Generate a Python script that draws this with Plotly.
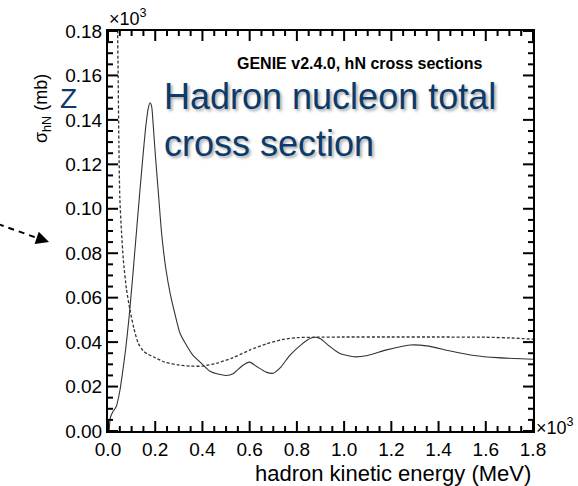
import plotly.graph_objects as go

# Solid curve (hN total cross section), x in units of 10^3 MeV, y in mb (x10^3)
solid_x = [0.005, 0.01, 0.02, 0.035, 0.05, 0.06, 0.075, 0.09, 0.105, 0.12, 0.135, 0.15, 0.16, 0.17,
           0.178, 0.185, 0.19, 0.20, 0.215, 0.227, 0.245, 0.263, 0.285, 0.305, 0.33, 0.36, 0.39,
           0.43, 0.47, 0.50, 0.53, 0.57, 0.60, 0.63, 0.67, 0.70, 0.73, 0.77, 0.82, 0.86, 0.88,
           0.90, 0.94, 0.98, 1.04, 1.10, 1.18, 1.28, 1.35, 1.45, 1.55, 1.65, 1.75, 1.80]
solid_y = [0.0, 0.006, 0.0085, 0.011, 0.018, 0.025, 0.037, 0.052, 0.070, 0.089, 0.108, 0.126, 0.137, 0.145,
           0.1477, 0.146, 0.140, 0.125, 0.105, 0.089, 0.073, 0.062, 0.052, 0.044, 0.039, 0.034, 0.031,
           0.027, 0.0255, 0.025, 0.0258, 0.0295, 0.031, 0.029, 0.0265, 0.026, 0.0285, 0.034, 0.039, 0.0418, 0.0422,
           0.0415, 0.038, 0.035, 0.0334, 0.034, 0.0365, 0.0387, 0.0383, 0.036, 0.034, 0.033, 0.0325, 0.0323]

# Dashed curve
dash_x = [0.030, 0.040, 0.043, 0.046, 0.050, 0.057, 0.065, 0.078, 0.093, 0.11, 0.128, 0.15, 0.17, 0.192,
          0.24, 0.30, 0.35, 0.40, 0.46, 0.53, 0.60, 0.67, 0.74, 0.80, 0.88, 1.0, 1.2, 1.4, 1.6, 1.72, 1.80]
dash_y = [0.25, 0.185, 0.16, 0.13, 0.105, 0.09, 0.077, 0.064, 0.0545, 0.046, 0.0395, 0.036, 0.0345, 0.0334,
          0.031, 0.0297, 0.0292, 0.0292, 0.0305, 0.033, 0.0364, 0.0392, 0.0412, 0.042, 0.0422, 0.0423, 0.0423,
          0.0423, 0.0422, 0.0418, 0.0413]

x_ticks = [0.0, 0.2, 0.4, 0.6, 0.8, 1.0, 1.2, 1.4, 1.6, 1.8]
y_ticks = [0.00, 0.02, 0.04, 0.06, 0.08, 0.10, 0.12, 0.14, 0.16, 0.18]

FONT = "Liberation Sans, Arial, Helvetica, sans-serif"
BLUE = "#0b3a6b"
TICKC = "black"

fig = go.Figure()
fig.add_trace(go.Scatter(x=dash_x, y=dash_y, mode="lines",
                         line=dict(color="#333333", width=1.3, dash="3px,2px", shape="spline", smoothing=0.6),
                         hoverinfo="skip", showlegend=False))
fig.add_trace(go.Scatter(x=solid_x, y=solid_y, mode="lines",
                         line=dict(color="#333333", width=1.1, shape="spline", smoothing=0.6),
                         hoverinfo="skip", showlegend=False))

fig.update_xaxes(range=[x_ticks[0], x_ticks[-1]], tickmode="array", tickvals=x_ticks,
                 ticktext=[f"{v:.1f}" for v in x_ticks],
                 showline=True, linecolor="black", linewidth=2, mirror=True, ticks="",
                 showgrid=False, zeroline=False,
                 tickfont=dict(family=FONT, size=19, color="black"))
fig.update_yaxes(range=[y_ticks[0], y_ticks[-1]], tickmode="array", tickvals=y_ticks,
                 ticktext=[f"{v:.2f}" for v in y_ticks],
                 showline=True, linecolor="black", linewidth=2, mirror=True, ticks="",
                 showgrid=False, zeroline=False,
                 tickfont=dict(family=FONT, size=19, color="black"))

# inward-pointing major/minor ticks on all four sides, placed on the data axes
PLOT_W, PLOT_H = 425, 400
MAJ, MIN = 10, 5

def with_minor(ticks, n=4):
    out = []
    for a, b in zip(ticks[:-1], ticks[1:]):
        step = (b - a) / n
        out += [(a + k * step, k == 0) for k in range(n)]
    out.append((ticks[-1], True))
    return out

shapes = []
for v, major in with_minor(x_ticks):
    L = (MAJ if major else MIN) / PLOT_H
    shapes.append(dict(type="line", xref="x", yref="y domain", x0=v, x1=v, y0=0, y1=L,
                       line=dict(color=TICKC, width=2), layer="above"))
    shapes.append(dict(type="line", xref="x", yref="y domain", x0=v, x1=v, y0=1, y1=1 - L,
                       line=dict(color=TICKC, width=2), layer="above"))
for v, major in with_minor(y_ticks):
    L = (MAJ if major else MIN) / PLOT_W
    shapes.append(dict(type="line", xref="x domain", yref="y", x0=0, x1=L, y0=v, y1=v,
                       line=dict(color=TICKC, width=2), layer="above"))
    shapes.append(dict(type="line", xref="x domain", yref="y", x0=1, x1=1 - L, y0=v, y1=v,
                       line=dict(color=TICKC, width=2), layer="above"))

def px_x(p):
    return (p - 108) / 425

def px_y(p):
    return (431 - p) / 400

# dashed pointer line on the left
shapes.append(dict(type="line", xref="paper", yref="paper", x0=px_x(-2), y0=px_y(224), x1=px_x(40), y1=px_y(239),
                   line=dict(color="black", width=2, dash="6px,5px")))

ann = []
ann.append(dict(text="GENIE v2.4.0, hN cross sections", x=px_x(360), y=px_y(53), xref="paper", yref="paper",
                showarrow=False, font=dict(family=FONT, size=16, color="black", weight="bold")))
ann.append(dict(text="Hadron nucleon total<br>cross section", x=px_x(162), y=px_y(120), xref="paper", yref="paper",
                xanchor="left", yanchor="middle", align="left", showarrow=False,
                font=dict(family=FONT, size=36, color=BLUE, shadow="2px 2px 3px rgba(0,0,0,0.35)")))
ann.append(dict(text="Z", x=px_x(68), y=px_y(98), xref="paper", yref="paper", showarrow=False,
                xanchor="center", yanchor="middle",
                font=dict(family=FONT, size=28, color=BLUE)))
ann.append(dict(text="σ<sub>hN</sub> (mb)", x=px_x(29), y=px_y(72), xref="paper", yref="paper",
                textangle=-90, showarrow=False, font=dict(family=FONT, size=18, color="black")))
ann.append(dict(text="hadron kinetic energy (MeV)", x=px_x(533), y=px_y(473), xref="paper", yref="paper",
                xanchor="right", yanchor="middle", showarrow=False, font=dict(family=FONT, size=22, color="black")))
ann.append(dict(text="×10<sup>3</sup>", x=px_x(107), y=px_y(17), xref="paper", yref="paper",
                xanchor="left", yanchor="middle", showarrow=False, font=dict(family=FONT, size=18, color="black")))
ann.append(dict(text="×10<sup>3</sup>", x=px_x(534), y=px_y(426), xref="paper", yref="paper",
                xanchor="left", yanchor="middle", showarrow=False, font=dict(family=FONT, size=18, color="black")))
ann.append(dict(text="", x=px_x(49), y=px_y(242), xref="paper", yref="paper", showarrow=True,
                ax=-12, ay=-4, arrowhead=2, arrowsize=1.3, arrowwidth=2, arrowcolor="black"))

fig.update_layout(
    template="none",
    width=578, height=486,
    margin=dict(l=108, r=45, t=31, b=55),
    paper_bgcolor="white", plot_bgcolor="white",
    annotations=ann,
    shapes=shapes,
)

fig.write_html("out.html")
